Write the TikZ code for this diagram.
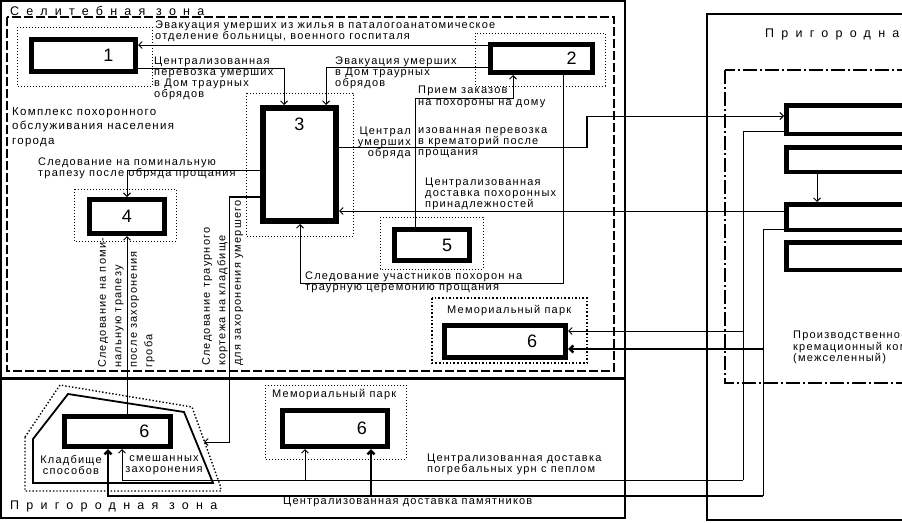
\documentclass[tikz,border=0pt]{standalone}
\usepackage{fontspec}
\setmainfont{Liberation Sans}
\newfontfamily\lblfont[LetterSpace=11]{Liberation Sans}
\newfontfamily\ttlfont[LetterSpace=58]{Liberation Sans}
\usetikzlibrary{arrows.meta,calc}

\begin{document}
\begin{tikzpicture}[x=1pt, y=-1pt,
  >={Straight Barb[length=3.5pt,width=7pt]},
  blk/.style={draw, line width=5pt, outer sep=2.5pt, inner sep=0pt, fill=white},
  kbox/.style={blk, line width=4.5pt, outer sep=2.25pt, minimum width=300pt},
  num/.style={font=\fontsize{18}{20}\selectfont, inner sep=0pt},
  dotbox/.style={dotted, line width=1pt},
  lbl/.style={font=\lblfont\fontsize{11}{11}\selectfont, align=left, inner sep=0pt, anchor=north west},
  ttl/.style={font=\ttlfont\fontsize{12.5}{14}\selectfont, inner sep=0pt, anchor=north west},
  lnk/.style={line width=1pt},
  hvy/.style={line width=2.5pt},
  zone/.style={line width=1.8pt, dash pattern=on 9pt off 3pt},
  krem/.style={line width=2pt, dash pattern=on 14pt off 3pt on 2pt off 3pt}
]
  \fill[white] (0,0) rectangle (902,522);
  \useasboundingbox (0,0) rectangle (902,522);
  \clip (0,0) rectangle (902,522);

  % zone frames
  \draw[line width=1.5pt] (0.75,0.75) rectangle (625,518);
  \draw[line width=3pt] (0,378) -- (625,378);
  \draw[zone] (7,17) rectangle (614,371);
  \draw[line width=1.3pt] (707,14) rectangle (1000,520);
  \draw[krem] (725,70) rectangle (1000,383);
  \node[ttl] (tsel) at (10,6) {Селитебная зона};
  \node[ttl] (tprig) at (10,501) {Пригородная зона};
  \node[ttl] (tprig2) at (765,29) {Пригородная зона};

  % dotted surroundings
  \draw[dotbox] (17,27) rectangle (152,86);
  \draw[dotbox] (475,33) rectangle (605,86);
  \draw[dotbox] (246,93) rectangle (353,236);
  \draw[dotbox] (74,189) rectangle (176,241);
  \draw[dotbox] (380,217) rectangle (483,269);
  \draw[dotbox, line width=1.6pt] (432,298) rectangle (587,363);
  \draw[dotbox] (265,385) rectangle (406,459);
  % cemetery outline
  \draw[dotbox, line width=1.4pt] (25,437) -- (60,385) -- (192,407) -- (220,485) -- (221,491) -- (25,491) -- cycle;
  \draw[line width=1.8pt] (33,439) -- (68,394) -- (184,412) -- (213,483) -- (33,483) -- cycle;
  \coordinate (cemedge) at (204,442);

  % objects
  \node[blk, minimum width=104pt, minimum height=32pt, label={[num,xshift=25pt]center:1}] (box1) at (83.5,55.5) {};
  \node[blk, minimum width=102pt, minimum height=28pt, label={[num,xshift=30pt]center:2}] (box2) at (541.5,58.5) {};
  \node[blk, line width=6pt, outer sep=3pt, minimum width=73pt, minimum height=113pt, label={[num,yshift=40pt]center:3}] (box3) at (299.5,164.5) {};
  \node[blk, minimum width=75pt, minimum height=34pt, label={[num]center:4}] (box4) at (127,216.5) {};
  \node[blk, minimum width=75pt, minimum height=31pt, label={[num,xshift=15pt]center:5}] (box5) at (432,245) {};
  \node[blk, minimum width=121pt, minimum height=32pt, label={[num,xshift=27pt]center:6}] (park6a) at (505,341.5) {};
  \node[blk, minimum width=105pt, minimum height=36pt, label={[num,xshift=27pt]center:6}] (park6b) at (335,428.5) {};
  \node[blk, minimum width=106pt, minimum height=30pt, label={[num,xshift=27pt]center:6}] (cem6) at (117.5,431.5) {};
  \node[kbox, minimum height=28.5pt] (crA) at (936.25,119.5) {};
  \node[kbox, minimum height=24.5pt] (crB) at (936.25,159.5) {};
  \node[kbox, minimum height=25.5pt] (crC) at (936.25,217) {};
  \node[kbox, minimum height=27.5pt] (crD) at (936.25,256) {};

  % connectors
  \draw[lnk,->] (box2.west |- 0,45) -- (box1.east |- 0,45);
  \draw[lnk,->] (box1.east |- 0,68) -| (284,0 |- box3.north);
  \draw[lnk,->] (box2.west |- 0,67) -| (326,0 |- box3.north);
  \draw[lnk,->] (415,0 |- box5.north) |- (513,98) -- (513,0 |- box2.south);
  \draw[lnk,->] (563,0 |- box2.south) |- (300,283) -- (300,0 |- box3.south);
  \draw[lnk,->] (box3.east |- 0,147) -| (587,116) -- (crA.west |- 0,116);
  \draw[hvy] (587,147) -- (587,116);
  \draw[lnk,->] (crC.west |- 0,211) -- (box3.east |- 0,211);
  \draw[lnk,->] (box3.west |- 0,170) -| (box4.north);
  \draw[lnk,->] (box3.west |- 0,197) -| (229,442) -- (cemedge);
  \draw[hvy] (box3.west |- 0,197) -- (229,197);
  \draw[lnk,->] (box4.south |- cem6.north) -- (box4.south);
  \draw[lnk,->] (crB.south -| 817,0) -- (crC.north -| 817,0);
  \draw[lnk] (crA.west |- 0,131) -| (743,480);
  \draw[lnk,->] (743,331) -- (park6a.east |- 0,331);
  \draw[lnk,->] (743,480) -| (122,0 |- cem6.south);
  \draw[lnk,->] (305,480) -- (305,0 |- park6b.south);
  \draw[lnk] (crC.west |- 0,229) -| (763,496);
  \draw[hvy,->] (763,349) -- (park6a.east |- 0,349);
  \draw[hvy,->] (763,496) -| (108,0 |- cem6.south);
  \draw[hvy,->] (371,496) -- (371,0 |- park6b.south);

  % labels
  \node[lbl] (l1) at (155,21) {Эвакуация умерших из жилья в паталогоанатомическое\\отделение больницы, военного госпиталя};
  \node[lbl] (l2) at (154,57) {Централизованная\\перевозка умерших\\в Дом траурных\\обрядов};
  \node[lbl] (l3) at (335,57) {Эвакуация умерших\\в Дом траурных\\обрядов};
  \node[lbl, font=\lblfont\fontsize{11}{12}\selectfont] (l4) at (418,86) {Прием заказов\\на похороны на дому};
  \node[lbl, font=\lblfont\fontsize{11.5}{14.5}\selectfont] (l5) at (12,107) {Комплекс похоронного\\обслуживания населения\\города};
  \node[lbl] (l6) at (38,158) {Следование на поминальную\\трапезу после обряда прощания};
  \node[lbl, anchor=north east, align=right] (l7a) at (411,127) {Централ\\умерших\\обряда};
  \node[lbl] (l7b) at (418,127) {изованная перевозка\\в крематорий после\\прощания};
  \node[lbl] (l8) at (425,178) {Централизованная\\доставка похоронных\\принадлежностей};
  \node[lbl] (l9) at (305,272) {Следование участников похорон на\\траурную церемонию прощания};
  \node[lbl] (l10) at (447,305) {Мемориальный парк};
  \node[lbl] (l11) at (272,389) {Мемориальный парк};
  \node[lbl, anchor=center, align=center] (l12) at (71,465) {Кладбище\\способов};
  \node[lbl, anchor=center, align=center] (l13) at (164,465) {смешанных\\захоронения};
  \node[lbl] (l14) at (427,454) {Централизованная доставка\\погребальных урн с пеплом};
  \node[lbl] (l15) at (283,497) {Централизованная доставка памятников};
  \node[lbl, font=\lblfont\fontsize{11}{11.5}\selectfont] (l16) at (793,331) {Производственно-\\кремационный комплекс\\(межселенный)};
  \node[lbl, rotate=90, font=\lblfont\fontsize{11}{15.5}\selectfont] (l17) at (98,368) {Следование на поми-\\нальную трапезу\\после захоронения\\гроба};
  \node[lbl, rotate=90, font=\lblfont\fontsize{11}{15.5}\selectfont] (l18) at (202,366) {Следование траурного\\кортежа на кладбище\\для захоронения умершего};
\end{tikzpicture}
\end{document}
